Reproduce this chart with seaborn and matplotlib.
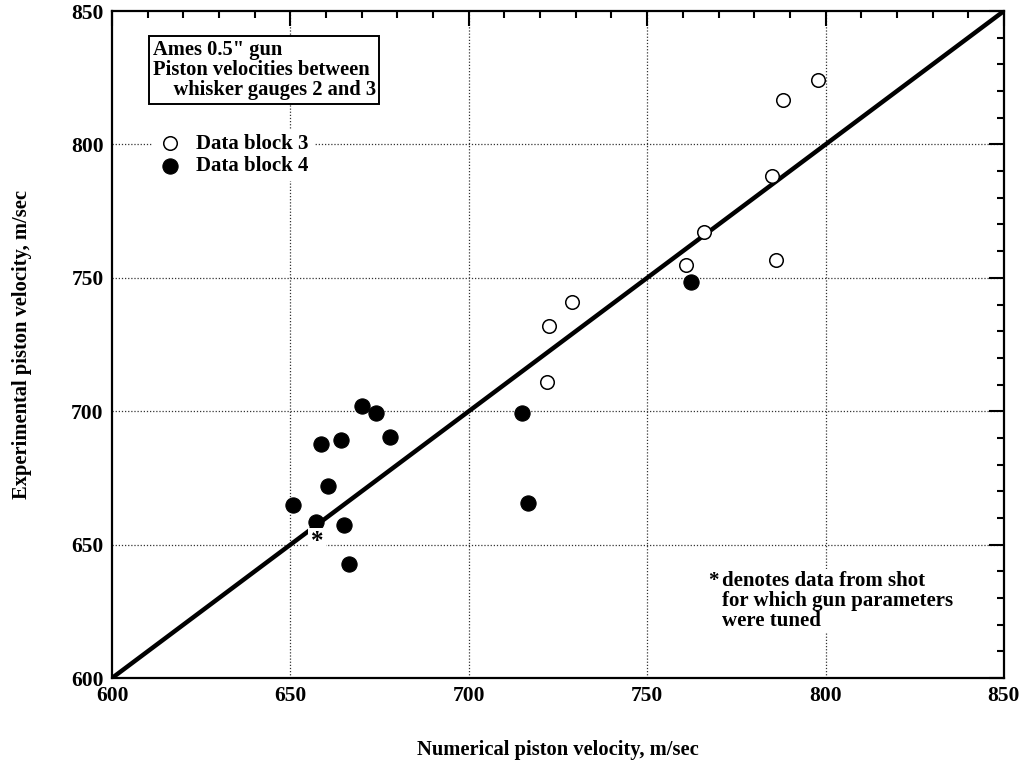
import numpy as np
import pandas as pd
import matplotlib
matplotlib.use("Agg")
import matplotlib.pyplot as plt
from matplotlib.ticker import MultipleLocator
import seaborn as sns

# Numerical vs. experimental piston velocities (m/sec)
block3_numerical = [798, 788, 766, 785, 786, 761, 729, 722.5, 722]
block3_experimental = [824, 816.5, 767, 788, 756.5, 755, 741, 732, 711]

block4_numerical = [670, 674, 678, 664.3, 658.6, 660.4, 650.8, 657.2, 665, 666.3, 714.9, 716.6, 762.3]
block4_experimental = [702, 699.3, 690.5, 689.3, 687.6, 672, 665, 658.5, 657.2, 642.8, 699.3, 665.5, 748.3]

tuned_shot = (657.4, 651.0)

axis_min, axis_max = 600, 850

df = pd.concat([
    pd.DataFrame({"num": block3_numerical, "exp": block3_experimental, "block": "Data block 3"}),
    pd.DataFrame({"num": block4_numerical, "exp": block4_experimental, "block": "Data block 4"}),
], ignore_index=True)

sns.set_style("white")
plt.rcParams["font.family"] = ["Liberation Serif", "DejaVu Serif"]
plt.rcParams["font.weight"] = "bold"
plt.rcParams["text.color"] = "black"
plt.rcParams["axes.labelcolor"] = "black"
plt.rcParams["xtick.color"] = "black"
plt.rcParams["ytick.color"] = "black"

fig = plt.figure(figsize=(10.24, 7.61), dpi=100)
ax = fig.add_axes([0.1094, 0.109, 0.871, 0.8765])

# dotted grid at interior major ticks
for v in [650, 700, 750, 800]:
    ax.axvline(v, color="#333333", lw=0.9, ls=(0, (1, 1.5)), zorder=0)
    ax.axhline(v, color="#333333", lw=0.9, ls=(0, (1, 1.5)), zorder=0)

# line of perfect agreement
ax.plot([axis_min, axis_max], [axis_min, axis_max], color="black", lw=3.2,
        solid_capstyle="butt", zorder=2)

sns.scatterplot(data=df[df.block == "Data block 3"], x="num", y="exp", ax=ax,
                marker="o", s=95, facecolor="white", edgecolor="black",
                linewidth=1.1, label="Data block 3", zorder=3)
sns.scatterplot(data=df[df.block == "Data block 4"], x="num", y="exp", ax=ax,
                marker="o", s=120, color="black", edgecolor="black",
                linewidth=0.8, label="Data block 4", zorder=3)

ax.text(tuned_shot[0], tuned_shot[1], "*", ha="center", va="center",
        fontsize=18, fontweight="bold", color="black", zorder=4,
        bbox=dict(boxstyle="square,pad=0.1", fc="white", ec="none"))

ax.set_xlim(axis_min, axis_max)
ax.set_ylim(axis_min, axis_max)
ax.xaxis.set_major_locator(MultipleLocator(50))
ax.yaxis.set_major_locator(MultipleLocator(50))
ax.xaxis.set_minor_locator(MultipleLocator(10))
ax.yaxis.set_minor_locator(MultipleLocator(10))
ax.tick_params(which="both", direction="in", top=True, right=True,
               width=1.5, color="black", labelcolor="black")
ax.tick_params(which="major", length=11, labelsize=15.5, pad=6)
ax.tick_params(which="minor", length=5)
for lab in ax.get_xticklabels() + ax.get_yticklabels():
    lab.set_fontweight("bold")
for sp in ax.spines.values():
    sp.set_linewidth(1.6)
    sp.set_color("black")

ax.set_xlabel("Numerical piston velocity, m/sec", fontsize=14.8,
              fontweight="bold", labelpad=24, color="black")
ax.set_ylabel("Experimental piston velocity, m/sec", fontsize=14.8,
              fontweight="bold", labelpad=28, color="black")

ax.text(0.0455, 0.957, "Ames 0.5\" gun\nPiston velocities between\n    whisker gauges 2 and 3",
        transform=ax.transAxes, ha="left", va="top", fontsize=14.8,
        fontweight="bold", linespacing=1.02, zorder=5, color="black",
        bbox=dict(boxstyle="square,pad=0.18", fc="white", ec="black", lw=1.4))

leg = ax.legend(loc="upper left", bbox_to_anchor=(0.0465, 0.822), frameon=True,
                fontsize=15, handletextpad=0.65, borderpad=0.2,
                labelspacing=0.1, borderaxespad=0, handlelength=1.2)
leg.get_frame().set_facecolor("white")
leg.get_frame().set_edgecolor("white")
leg.get_frame().set_alpha(1)
for t in leg.get_texts():
    t.set_fontweight("bold")
    t.set_color("black")

ax.text(767, 640, "*", ha="left", va="top", fontsize=15, fontweight="bold",
        color="black", zorder=5)
ax.text(771, 640, "denotes data from shot\nfor which gun parameters\nwere tuned",
        ha="left", va="top", fontsize=15, fontweight="bold", linespacing=0.98,
        color="black", zorder=5,
        bbox=dict(boxstyle="square,pad=0.1", fc="white", ec="none"))

fig.savefig("out.png", dpi=100)
